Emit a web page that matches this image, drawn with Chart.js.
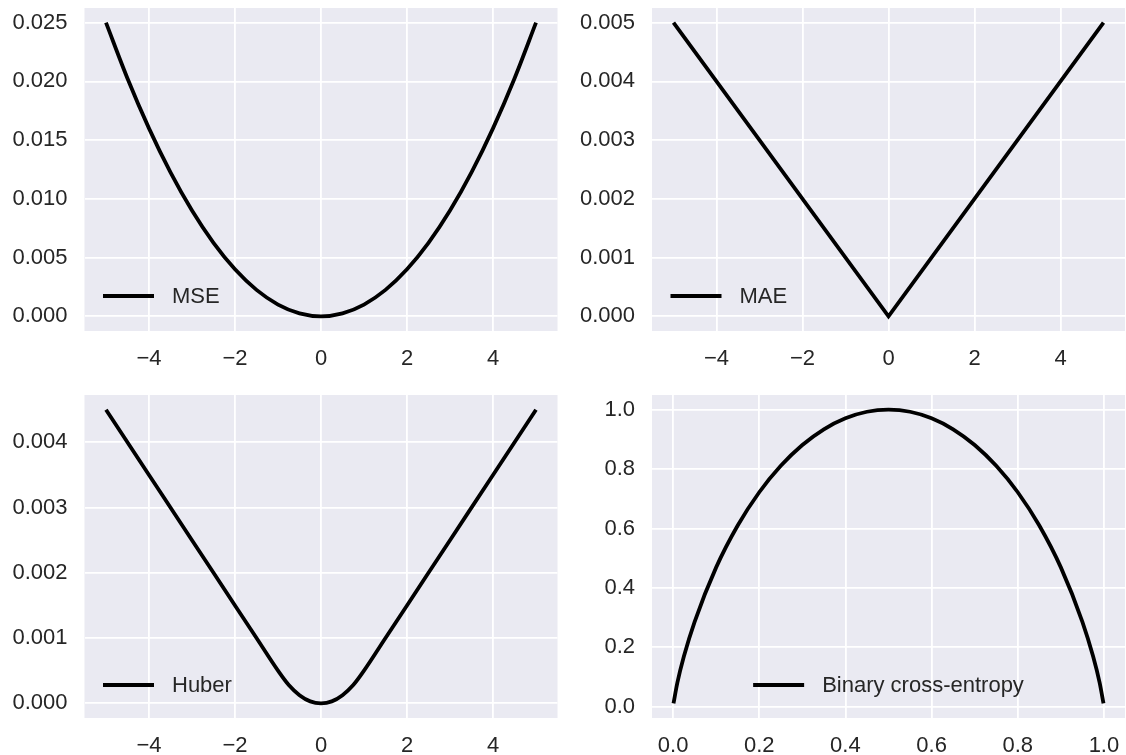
<!DOCTYPE html>
<html>
<head>
<meta charset="utf-8">
<script src="https://cdn.jsdelivr.net/npm/chart.js@4"></script>
<style>
  body { margin: 0; background: #fff; }
  #wrap { position: relative; width: 1126px; height: 755px; }
  canvas { position: absolute; }
</style>
</head>
<body>
<div id="wrap">
  <canvas id="mse" width="563" height="378" style="left:0;top:0"></canvas>
  <canvas id="mae" width="563" height="378" style="left:563px;top:0"></canvas>
  <canvas id="huber" width="563" height="377" style="left:0;top:378px"></canvas>
  <canvas id="bce" width="563" height="377" style="left:563px;top:378px"></canvas>
</div>
<script>
// values
const mseX = [-5, -4.5, -4, -3.5, -3, -2.5, -2, -1.5, -1, -0.5, 0, 0.5, 1, 1.5, 2, 2.5, 3, 3.5, 4, 4.5, 5];
const mseY = [0.025, 0.02025, 0.016, 0.01225, 0.009, 0.00625, 0.004, 0.00225, 0.001, 0.00025, 0,
  0.00025, 0.001, 0.00225, 0.004, 0.00625, 0.009, 0.01225, 0.016, 0.02025, 0.025];

const maeX = [-5, 0, 5];
const maeY = [0.005, 0, 0.005];

const huberX = [-5, -4, -3, -2, -1.5, -1, -0.75, -0.5, -0.25, 0, 0.25, 0.5, 0.75, 1, 1.5, 2, 3, 4, 5];
const huberY = [0.0045, 0.0035, 0.0025, 0.0015, 0.001, 0.0005, 0.00028, 0.000125, 0.00003, 0,
  0.00003, 0.000125, 0.00028, 0.0005, 0.001, 0.0015, 0.0025, 0.0035, 0.0045];

const bceX = [0.001, 0.01, 0.025, 0.05, 0.1, 0.15, 0.2, 0.25, 0.3, 0.35, 0.4, 0.45, 0.5,
  0.55, 0.6, 0.65, 0.7, 0.75, 0.8, 0.85, 0.9, 0.95, 0.975, 0.99, 0.999];
const bceY = [0.011, 0.081, 0.169, 0.286, 0.469, 0.61, 0.722, 0.811, 0.881, 0.934, 0.971, 0.993, 1.0,
  0.993, 0.971, 0.934, 0.881, 0.811, 0.722, 0.61, 0.469, 0.286, 0.169, 0.081, 0.011];

const lossXTicks = [-4, -2, 0, 2, 4];
const mseYTicks = [0, 0.005, 0.01, 0.015, 0.02, 0.025];
const maeYTicks = [0, 0.001, 0.002, 0.003, 0.004, 0.005];
const huberYTicks = [0, 0.001, 0.002, 0.003, 0.004];
const bceTicks = [0, 0.2, 0.4, 0.6, 0.8, 1.0];

const FONT = { family: '"Liberation Sans", Arial, sans-serif', size: 22 };
const TEXT = '#262626';

const fmt = digits => v => (v < 0 ? '\u2212' : '') + Math.abs(v).toFixed(digits);

// axes background like seaborn darkgrid
const panelBg = {
  id: 'panelBg',
  beforeDraw(chart) {
    const { ctx, chartArea: a } = chart;
    ctx.save();
    ctx.fillStyle = '#eaeaf2';
    ctx.fillRect(a.left, a.top, a.right - a.left, a.bottom - a.top);
    ctx.restore();
  },
};

// frameless legend inside the axes
const innerLegend = {
  id: 'innerLegend',
  afterDatasetsDraw(chart, args, opts) {
    const { ctx, chartArea: a } = chart;
    const ds = chart.data.datasets[0];
    ctx.save();
    ctx.font = `${FONT.size}px ${FONT.family}`;
    const tw = ctx.measureText(ds.label).width;
    const total = 51 + 18 + tw;
    const x0 = opts.align === 'center' ? (a.left + a.right) / 2 - total / 2 : a.left + 18.5;
    const y = a.bottom - opts.bottom;
    ctx.strokeStyle = ds.borderColor;
    ctx.lineWidth = ds.borderWidth;
    ctx.beginPath();
    ctx.moveTo(x0, y);
    ctx.lineTo(x0 + 51, y);
    ctx.stroke();
    ctx.fillStyle = TEXT;
    ctx.textBaseline = 'middle';
    ctx.fillText(ds.label, x0 + 69, y + 1);
    ctx.restore();
  },
};

const axis = (min, max, ticks, digits, size, isX) => ({
  type: 'linear',
  min, max,
  afterBuildTicks: s => { s.ticks = ticks.map(v => ({ value: v })); },
  afterFit: s => {
    if (isX) s.height = size; else s.width = size;
    s.paddingTop = 0; s.paddingBottom = 0; s.paddingLeft = 0; s.paddingRight = 0;
  },
  grid: { color: '#ffffff', lineWidth: 1.8, drawTicks: false },
  border: { display: false },
  ticks: {
    autoSkip: false, maxRotation: 0, color: TEXT, font: FONT,
    padding: isX ? 15 : 17,
    callback: fmt(digits),
  },
});

const makeChart = (id, label, xs, ys, smooth, xAxis, yAxis, pad, legend) => {
  new Chart(document.getElementById(id), {
    type: 'line',
    data: {
      datasets: [{
        label,
        data: xs.map((x, i) => ({ x, y: ys[i] })),
        borderColor: '#000000',
        borderWidth: 3.8,
        pointRadius: 0,
        fill: false,
        cubicInterpolationMode: smooth ? 'monotone' : 'default',
        tension: 0,
      }],
    },
    options: {
      responsive: false,
      animation: false,
      devicePixelRatio: 1,
      layout: { padding: pad },
      plugins: { legend: { display: false }, tooltip: { enabled: false }, innerLegend: legend },
      scales: { x: xAxis, y: yAxis },
    },
    plugins: [panelBg, innerLegend],
  });
};

makeChart('mse', 'MSE', mseX, mseY, true,
  axis(-5.5, 5.5, lossXTicks, 0, 47, true),
  axis(-0.00125, 0.02625, mseYTicks, 3, 84.5, false),
  { top: 8, right: 5.5, left: 0, bottom: 0 },
  { align: 'left', bottom: 35 });

makeChart('mae', 'MAE', maeX, maeY, false,
  axis(-5.5, 5.5, lossXTicks, 0, 47, true),
  axis(-0.00025, 0.00525, maeYTicks, 3, 89, false),
  { top: 8, right: 1, left: 0, bottom: 0 },
  { align: 'left', bottom: 35 });

makeChart('huber', 'Huber', huberX, huberY, true,
  axis(-5.5, 5.5, lossXTicks, 0, 37, true),
  axis(-0.000225, 0.004725, huberYTicks, 3, 84.5, false),
  { top: 17, right: 5.5, left: 0, bottom: 0 },
  { align: 'left', bottom: 33 });

makeChart('bce', 'Binary cross-entropy', bceX, bceY, true,
  axis(-0.0489, 1.0489, bceTicks, 1, 37, true),
  axis(-0.038, 1.0494, bceTicks, 1, 89, false),
  { top: 17, right: 1, left: 0, bottom: 0 },
  { align: 'center', bottom: 33 });
</script>
</body>
</html>
